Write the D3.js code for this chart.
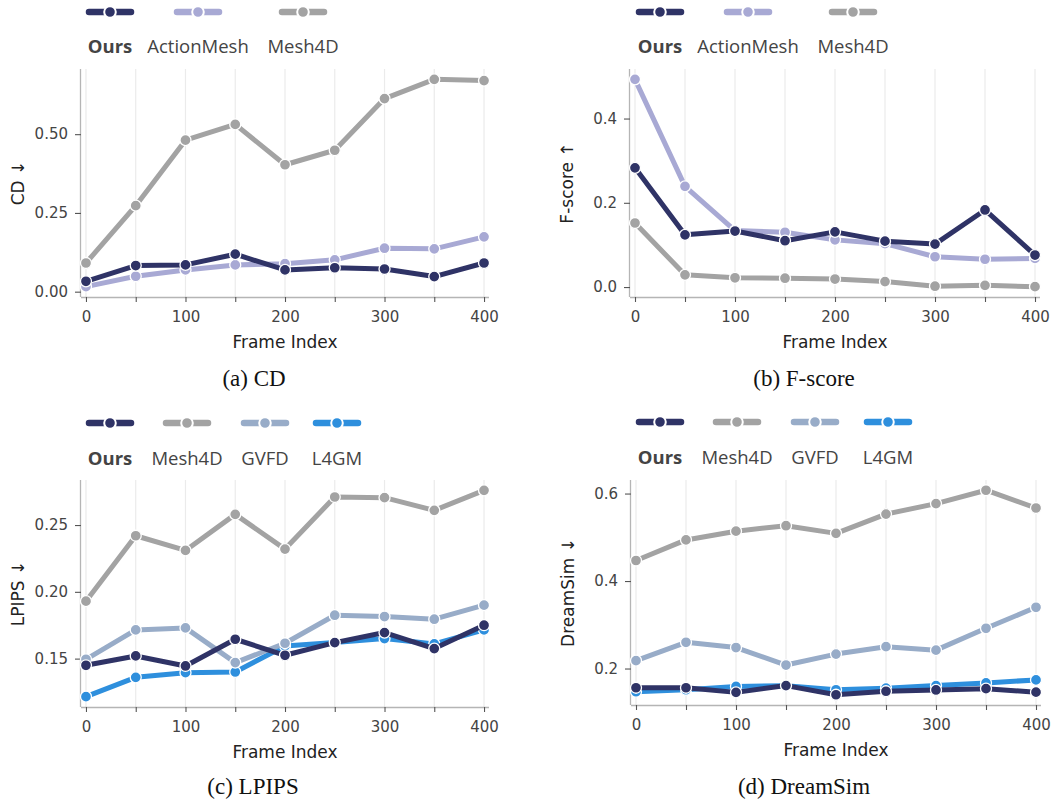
<!DOCTYPE html>
<html>
<head>
<meta charset="utf-8">
<script src="https://cdn.jsdelivr.net/npm/d3@7"></script>
<style>
  body { margin: 0; background: #fff; }
</style>
</head>
<body>
<svg id="chart" width="1058" height="801"></svg>
<script>
const frames = [0, 50, 100, 150, 200, 250, 300, 350, 400];
const xTickLabels = [0, 100, 200, 300, 400];

// (a) CD
const cdOurs = [0.033, 0.083, 0.085, 0.119, 0.069, 0.076, 0.072, 0.048, 0.091];
const cdActionMesh = [0.016, 0.049, 0.069, 0.085, 0.089, 0.101, 0.138, 0.136, 0.174];
const cdMesh4D = [0.091, 0.273, 0.481, 0.531, 0.403, 0.449, 0.613, 0.674, 0.670];

// (b) F-score
const fsOurs = [0.283, 0.124, 0.133, 0.110, 0.131, 0.109, 0.102, 0.183, 0.076];
const fsActionMesh = [0.493, 0.239, 0.134, 0.130, 0.112, 0.103, 0.072, 0.066, 0.068];
const fsMesh4D = [0.152, 0.029, 0.022, 0.021, 0.019, 0.013, 0.002, 0.004, 0.001];

// (c) LPIPS
const lpOurs = [0.145, 0.152, 0.1445, 0.1645, 0.1525, 0.162, 0.1695, 0.1575, 0.175];
const lpMesh4D = [0.193, 0.242, 0.231, 0.258, 0.232, 0.271, 0.2705, 0.261, 0.276];
const lpGVFD = [0.1495, 0.1715, 0.173, 0.147, 0.1615, 0.1825, 0.1815, 0.1795, 0.19];
const lpL4GM = [0.1215, 0.136, 0.1395, 0.140, 0.1595, 0.162, 0.165, 0.161, 0.1715];

// (d) DreamSim
const dsOurs = [0.156, 0.156, 0.1455, 0.161, 0.140, 0.148, 0.151, 0.154, 0.146];
const dsMesh4D = [0.447, 0.494, 0.514, 0.5265, 0.509, 0.553, 0.577, 0.6076, 0.567];
const dsGVFD = [0.218, 0.260, 0.248, 0.208, 0.233, 0.250, 0.242, 0.292, 0.340];
const dsL4GM = [0.147, 0.1515, 0.159, 0.1606, 0.1515, 0.155, 0.161, 0.167, 0.174];

const methodColor = {
  Ours: "#2f3366",
  ActionMesh: "#a8a9d4",
  Mesh4D: "#a3a3a3",
  GVFD: "#98acc8",
  L4GM: "#2e8fdd",
};

const panels = [
  {
    left: 81, right: 489, top: 69, bottom: 297,
    yLabel: "CD \u2193", caption: "(a) CD", captionX: 254, captionY: 386,
    yTicks: [0, 0.25, 0.5], yFormat: ".2f",
    series: [["Ours", cdOurs], ["ActionMesh", cdActionMesh], ["Mesh4D", cdMesh4D]],
    legendY: 12, legendTextY: 53, legendOffsets: [29, 117, 222],
  },
  {
    left: 630, right: 1040, top: 69, bottom: 297,
    yLabel: "F-score \u2191", caption: "(b) F-score", captionX: 804, captionY: 386,
    yTicks: [0, 0.2, 0.4], yFormat: ".1f",
    series: [["Ours", fsOurs], ["ActionMesh", fsActionMesh], ["Mesh4D", fsMesh4D]],
    legendY: 12, legendTextY: 53, legendOffsets: [30, 118, 223],
  },
  {
    left: 81, right: 489, top: 480, bottom: 707,
    yLabel: "LPIPS \u2193", caption: "(c) LPIPS", captionX: 253, captionY: 794,
    yTicks: [0.15, 0.2, 0.25], yFormat: ".2f",
    series: [["Ours", lpOurs], ["Mesh4D", lpMesh4D], ["GVFD", lpGVFD], ["L4GM", lpL4GM]],
    legendY: 423, legendTextY: 465, legendOffsets: [29, 106, 184, 256],
  },
  {
    left: 631, right: 1041, top: 480, bottom: 705,
    yLabel: "DreamSim \u2193", caption: "(d) DreamSim", captionX: 804, captionY: 794,
    yTicks: [0.2, 0.4, 0.6], yFormat: ".1f",
    series: [["Ours", dsOurs], ["Mesh4D", dsMesh4D], ["GVFD", dsGVFD], ["L4GM", dsL4GM]],
    legendY: 422, legendTextY: 464, legendOffsets: [29, 106, 184, 257],
  },
];

const svg = d3.select("#chart");
panels.forEach((p) => drawPanel(p));

function drawPanel(p) {
  const allValues = p.series.flatMap((s) => s[1]);
  const [lo, hi] = d3.extent(allValues);
  const pad = (hi - lo) * 0.05;

  const x = d3.scaleLinear().domain([-5, 405]).range([p.left, p.right]);
  const y = d3.scaleLinear().domain([lo - pad, hi + pad]).range([p.bottom, p.top]);

  const g = svg.append("g");

  // vertical grid
  g.append("g")
    .selectAll("line")
    .data(frames)
    .join("line")
    .attr("x1", (d) => x(d))
    .attr("x2", (d) => x(d))
    .attr("y1", p.top)
    .attr("y2", p.bottom)
    .style("stroke", "#ebebeb")
    .style("stroke-width", 1.2);

  // x axis
  const xAxis = g
    .append("g")
    .attr("transform", `translate(0,${p.bottom})`)
    .call(
      d3.axisBottom(x)
        .tickValues(frames)
        .tickSize(5)
        .tickPadding(9)
        .tickFormat((d) => (xTickLabels.includes(d) ? d : ""))
    );
  xAxis.select(".domain").attr("d", `M${p.left},0.5H${p.right}`);

  // y axis
  const yAxis = g
    .append("g")
    .attr("transform", `translate(${p.left},0)`)
    .call(
      d3.axisLeft(y)
        .tickValues(p.yTicks)
        .tickSize(6)
        .tickPadding(7)
        .tickFormat(d3.format(p.yFormat))
    );
  yAxis.select(".domain").attr("d", `M-0.5,${p.top}V${p.bottom}`);

  [xAxis, yAxis].forEach((a) => {
    a.select(".domain").style("stroke", "#b5b5b5").style("stroke-width", 1.3);
    a.selectAll(".tick line").style("stroke", "#555").style("stroke-width", 1.1);
    a.selectAll(".tick text")
      .style("font-family", "DejaVu Sans")
      .style("font-size", "15px")
      .style("fill", "#444");
  });

  // axis titles
  g.append("text")
    .attr("x", (p.left + p.right) / 2)
    .attr("y", p.bottom + 51)
    .attr("text-anchor", "middle")
    .style("font-family", "DejaVu Sans")
    .style("font-size", "17px")
    .style("fill", "#222")
    .text("Frame Index");

  g.append("text")
    .attr(
      "transform",
      `translate(${p.left - 57},${(p.top + p.bottom) / 2}) rotate(-90)`
    )
    .attr("text-anchor", "middle")
    .style("font-family", "DejaVu Sans")
    .style("font-size", "17px")
    .style("fill", "#222")
    .text(p.yLabel);

  // lines, Ours drawn last so it sits on top
  const line = d3
    .line()
    .x((d, i) => x(frames[i]))
    .y((d) => y(d));

  const drawOrder = p.series.slice().reverse();
  drawOrder.forEach(([name, values]) => {
    const sg = g.append("g");
    sg.append("path")
      .attr("d", line(values))
      .style("fill", "none")
      .style("stroke", methodColor[name])
      .style("stroke-width", 5)
      .style("stroke-linejoin", "round");
    sg.selectAll("circle")
      .data(values)
      .join("circle")
      .attr("cx", (d, i) => x(frames[i]))
      .attr("cy", (d) => y(d))
      .attr("r", 5.5)
      .style("fill", methodColor[name])
      .style("stroke", "#fff")
      .style("stroke-width", 1.3);
  });

  // legend: handle on top, label underneath
  const legend = g
    .selectAll(".legendItem")
    .data(p.series)
    .join("g")
    .attr("class", "legendItem")
    .attr("transform", (d, i) => `translate(${p.left + p.legendOffsets[i]},0)`);

  legend
    .append("line")
    .attr("x1", -21)
    .attr("x2", 21)
    .attr("y1", p.legendY)
    .attr("y2", p.legendY)
    .style("stroke", (d) => methodColor[d[0]])
    .style("stroke-width", 6.5)
    .style("stroke-linecap", "round");

  legend
    .append("circle")
    .attr("cx", 0)
    .attr("cy", p.legendY)
    .attr("r", 5.8)
    .style("fill", (d) => methodColor[d[0]])
    .style("stroke", "#fff")
    .style("stroke-width", 2);

  legend
    .append("text")
    .attr("x", 0)
    .attr("y", p.legendTextY)
    .attr("text-anchor", "middle")
    .style("font-family", "Open Sans")
    .style("font-size", "18.5px")
    .style("font-weight", (d) => (d[0] === "Ours" ? "bold" : "normal"))
    .style("fill", "#444")
    .text((d) => d[0]);

  // caption
  svg
    .append("text")
    .attr("x", p.captionX)
    .attr("y", p.captionY)
    .attr("text-anchor", "middle")
    .style("font-family", "Liberation Serif")
    .style("font-size", "23px")
    .style("fill", "#111")
    .text(p.caption);
}
</script>
</body>
</html>
